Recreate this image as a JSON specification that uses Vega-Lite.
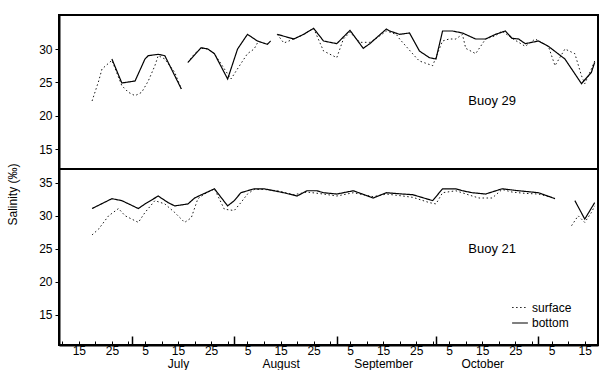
{
"$schema": "https://vega.github.io/schema/vega-lite/v6.json",
"padding": {"left": 5, "top": 14, "right": 0, "bottom": 0},
"spacing": 0,
"bounds": "flush",
"config": {
  "font": "Liberation Sans",
  "view": {"stroke": "black", "strokeWidth": 2},
  "axis": {"labelFont": "Liberation Sans", "labelFontSize": 12, "labelColor": "black", "tickColor": "black", "domainColor": "black", "grid": false, "titleColor": "black", "titleFont": "Liberation Sans"},
  "legend": {"labelFont": "Liberation Sans", "labelColor": "black"}
},
"resolve": {"scale": {"strokeDash": "independent", "strokeWidth": "independent"}, "legend": {"strokeDash": "independent"}},
"datasets": {
  "labels": [
    {"buoy": 29, "label": "Buoy 29", "date": "1975-10-18", "sal": 22.2},
    {"buoy": 21, "label": "Buoy 21", "date": "1975-10-18", "sal": 25.0}
  ],
  "sal": [
    {"buoy":29,"layer":"bottom","date":"1975-06-18","sal":25.8},
    {"buoy":29,"layer":"bottom","date":"1975-06-21","sal":null},
    {"buoy":29,"layer":"bottom","date":"1975-06-25","sal":28.5},
    {"buoy":29,"layer":"bottom","date":"1975-06-28","sal":24.9},
    {"buoy":29,"layer":"bottom","date":"1975-07-02","sal":25.2},
    {"buoy":29,"layer":"bottom","date":"1975-07-03","sal":26.3},
    {"buoy":29,"layer":"bottom","date":"1975-07-05","sal":28.5},
    {"buoy":29,"layer":"bottom","date":"1975-07-06","sal":29.0},
    {"buoy":29,"layer":"bottom","date":"1975-07-09","sal":29.2},
    {"buoy":29,"layer":"bottom","date":"1975-07-11","sal":29.0},
    {"buoy":29,"layer":"bottom","date":"1975-07-13","sal":27.0},
    {"buoy":29,"layer":"bottom","date":"1975-07-16","sal":24.0},
    {"buoy":29,"layer":"bottom","date":"1975-07-17","sal":null},
    {"buoy":29,"layer":"bottom","date":"1975-07-18","sal":28.0},
    {"buoy":29,"layer":"bottom","date":"1975-07-22","sal":30.2},
    {"buoy":29,"layer":"bottom","date":"1975-07-24","sal":30.0},
    {"buoy":29,"layer":"bottom","date":"1975-07-26","sal":29.3},
    {"buoy":29,"layer":"bottom","date":"1975-07-30","sal":25.5},
    {"buoy":29,"layer":"bottom","date":"1975-08-02","sal":30.0},
    {"buoy":29,"layer":"bottom","date":"1975-08-05","sal":32.2},
    {"buoy":29,"layer":"bottom","date":"1975-08-08","sal":31.2},
    {"buoy":29,"layer":"bottom","date":"1975-08-11","sal":30.7},
    {"buoy":29,"layer":"bottom","date":"1975-08-12","sal":31.2},
    {"buoy":29,"layer":"bottom","date":"1975-08-13","sal":null},
    {"buoy":29,"layer":"bottom","date":"1975-08-14","sal":32.2},
    {"buoy":29,"layer":"bottom","date":"1975-08-19","sal":31.5},
    {"buoy":29,"layer":"bottom","date":"1975-08-22","sal":32.2},
    {"buoy":29,"layer":"bottom","date":"1975-08-25","sal":33.1},
    {"buoy":29,"layer":"bottom","date":"1975-08-28","sal":31.2},
    {"buoy":29,"layer":"bottom","date":"1975-09-01","sal":30.8},
    {"buoy":29,"layer":"bottom","date":"1975-09-05","sal":32.8},
    {"buoy":29,"layer":"bottom","date":"1975-09-09","sal":30.1},
    {"buoy":29,"layer":"bottom","date":"1975-09-11","sal":30.8},
    {"buoy":29,"layer":"bottom","date":"1975-09-16","sal":33.0},
    {"buoy":29,"layer":"bottom","date":"1975-09-17","sal":32.7},
    {"buoy":29,"layer":"bottom","date":"1975-09-20","sal":32.2},
    {"buoy":29,"layer":"bottom","date":"1975-09-23","sal":32.4},
    {"buoy":29,"layer":"bottom","date":"1975-09-26","sal":29.7},
    {"buoy":29,"layer":"bottom","date":"1975-09-29","sal":28.7},
    {"buoy":29,"layer":"bottom","date":"1975-10-01","sal":28.5},
    {"buoy":29,"layer":"bottom","date":"1975-10-03","sal":32.7},
    {"buoy":29,"layer":"bottom","date":"1975-10-06","sal":32.7},
    {"buoy":29,"layer":"bottom","date":"1975-10-09","sal":32.4},
    {"buoy":29,"layer":"bottom","date":"1975-10-13","sal":31.5},
    {"buoy":29,"layer":"bottom","date":"1975-10-16","sal":31.5},
    {"buoy":29,"layer":"bottom","date":"1975-10-19","sal":32.2},
    {"buoy":29,"layer":"bottom","date":"1975-10-22","sal":32.7},
    {"buoy":29,"layer":"bottom","date":"1975-10-24","sal":31.6},
    {"buoy":29,"layer":"bottom","date":"1975-10-26","sal":31.5},
    {"buoy":29,"layer":"bottom","date":"1975-10-28","sal":30.8},
    {"buoy":29,"layer":"bottom","date":"1975-11-01","sal":31.2},
    {"buoy":29,"layer":"bottom","date":"1975-11-04","sal":30.4},
    {"buoy":29,"layer":"bottom","date":"1975-11-09","sal":28.5},
    {"buoy":29,"layer":"bottom","date":"1975-11-14","sal":24.8},
    {"buoy":29,"layer":"bottom","date":"1975-11-17","sal":26.5},
    {"buoy":29,"layer":"bottom","date":"1975-11-18","sal":28.0},
    {"buoy":29,"layer":"surface","date":"1975-06-19","sal":22.2},
    {"buoy":29,"layer":"surface","date":"1975-06-21","sal":25.2},
    {"buoy":29,"layer":"surface","date":"1975-06-22","sal":27.0},
    {"buoy":29,"layer":"surface","date":"1975-06-25","sal":28.3},
    {"buoy":29,"layer":"surface","date":"1975-06-28","sal":24.5},
    {"buoy":29,"layer":"surface","date":"1975-06-30","sal":23.5},
    {"buoy":29,"layer":"surface","date":"1975-07-02","sal":23.0},
    {"buoy":29,"layer":"surface","date":"1975-07-04","sal":23.5},
    {"buoy":29,"layer":"surface","date":"1975-07-06","sal":25.2},
    {"buoy":29,"layer":"surface","date":"1975-07-08","sal":27.5},
    {"buoy":29,"layer":"surface","date":"1975-07-09","sal":29.0},
    {"buoy":29,"layer":"surface","date":"1975-07-11","sal":28.5},
    {"buoy":29,"layer":"surface","date":"1975-07-14","sal":26.5},
    {"buoy":29,"layer":"surface","date":"1975-07-16","sal":24.0},
    {"buoy":29,"layer":"surface","date":"1975-07-17","sal":null},
    {"buoy":29,"layer":"surface","date":"1975-07-18","sal":28.0},
    {"buoy":29,"layer":"surface","date":"1975-07-20","sal":29.3},
    {"buoy":29,"layer":"surface","date":"1975-07-22","sal":30.1},
    {"buoy":29,"layer":"surface","date":"1975-07-24","sal":30.0},
    {"buoy":29,"layer":"surface","date":"1975-07-26","sal":29.3},
    {"buoy":29,"layer":"surface","date":"1975-07-31","sal":25.5},
    {"buoy":29,"layer":"surface","date":"1975-08-03","sal":27.8},
    {"buoy":29,"layer":"surface","date":"1975-08-05","sal":29.3},
    {"buoy":29,"layer":"surface","date":"1975-08-07","sal":30.0},
    {"buoy":29,"layer":"surface","date":"1975-08-08","sal":30.9},
    {"buoy":29,"layer":"surface","date":"1975-08-09","sal":null},
    {"buoy":29,"layer":"surface","date":"1975-08-14","sal":32.2},
    {"buoy":29,"layer":"surface","date":"1975-08-16","sal":30.9},
    {"buoy":29,"layer":"surface","date":"1975-08-19","sal":31.5},
    {"buoy":29,"layer":"surface","date":"1975-08-22","sal":32.2},
    {"buoy":29,"layer":"surface","date":"1975-08-25","sal":33.1},
    {"buoy":29,"layer":"surface","date":"1975-08-28","sal":29.7},
    {"buoy":29,"layer":"surface","date":"1975-09-01","sal":28.7},
    {"buoy":29,"layer":"surface","date":"1975-09-03","sal":31.5},
    {"buoy":29,"layer":"surface","date":"1975-09-05","sal":32.5},
    {"buoy":29,"layer":"surface","date":"1975-09-08","sal":31.0},
    {"buoy":29,"layer":"surface","date":"1975-09-11","sal":31.0},
    {"buoy":29,"layer":"surface","date":"1975-09-13","sal":31.6},
    {"buoy":29,"layer":"surface","date":"1975-09-16","sal":32.7},
    {"buoy":29,"layer":"surface","date":"1975-09-19","sal":32.2},
    {"buoy":29,"layer":"surface","date":"1975-09-20","sal":31.5},
    {"buoy":29,"layer":"surface","date":"1975-09-25","sal":28.7},
    {"buoy":29,"layer":"surface","date":"1975-09-26","sal":28.2},
    {"buoy":29,"layer":"surface","date":"1975-09-30","sal":27.5},
    {"buoy":29,"layer":"surface","date":"1975-10-02","sal":30.0},
    {"buoy":29,"layer":"surface","date":"1975-10-03","sal":31.2},
    {"buoy":29,"layer":"surface","date":"1975-10-05","sal":31.5},
    {"buoy":29,"layer":"surface","date":"1975-10-07","sal":31.5},
    {"buoy":29,"layer":"surface","date":"1975-10-09","sal":32.2},
    {"buoy":29,"layer":"surface","date":"1975-10-10","sal":30.1},
    {"buoy":29,"layer":"surface","date":"1975-10-13","sal":29.3},
    {"buoy":29,"layer":"surface","date":"1975-10-16","sal":31.5},
    {"buoy":29,"layer":"surface","date":"1975-10-19","sal":32.0},
    {"buoy":29,"layer":"surface","date":"1975-10-21","sal":32.7},
    {"buoy":29,"layer":"surface","date":"1975-10-24","sal":31.6},
    {"buoy":29,"layer":"surface","date":"1975-10-28","sal":30.4},
    {"buoy":29,"layer":"surface","date":"1975-10-31","sal":31.5},
    {"buoy":29,"layer":"surface","date":"1975-11-04","sal":30.4},
    {"buoy":29,"layer":"surface","date":"1975-11-06","sal":27.5},
    {"buoy":29,"layer":"surface","date":"1975-11-09","sal":30.0},
    {"buoy":29,"layer":"surface","date":"1975-11-12","sal":29.3},
    {"buoy":29,"layer":"surface","date":"1975-11-14","sal":26.0},
    {"buoy":29,"layer":"surface","date":"1975-11-15","sal":24.8},
    {"buoy":29,"layer":"surface","date":"1975-11-17","sal":27.0},
    {"buoy":29,"layer":"surface","date":"1975-11-18","sal":28.2},
    {"buoy":21,"layer":"bottom","date":"1975-06-19","sal":31.1},
    {"buoy":21,"layer":"bottom","date":"1975-06-25","sal":32.6},
    {"buoy":21,"layer":"bottom","date":"1975-06-28","sal":32.3},
    {"buoy":21,"layer":"bottom","date":"1975-07-03","sal":31.1},
    {"buoy":21,"layer":"bottom","date":"1975-07-05","sal":31.8},
    {"buoy":21,"layer":"bottom","date":"1975-07-09","sal":33.0},
    {"buoy":21,"layer":"bottom","date":"1975-07-12","sal":32.0},
    {"buoy":21,"layer":"bottom","date":"1975-07-14","sal":31.5},
    {"buoy":21,"layer":"bottom","date":"1975-07-18","sal":31.8},
    {"buoy":21,"layer":"bottom","date":"1975-07-20","sal":32.7},
    {"buoy":21,"layer":"bottom","date":"1975-07-26","sal":34.1},
    {"buoy":21,"layer":"bottom","date":"1975-07-30","sal":31.5},
    {"buoy":21,"layer":"bottom","date":"1975-08-01","sal":32.3},
    {"buoy":21,"layer":"bottom","date":"1975-08-03","sal":33.5},
    {"buoy":21,"layer":"bottom","date":"1975-08-07","sal":34.1},
    {"buoy":21,"layer":"bottom","date":"1975-08-10","sal":34.1},
    {"buoy":21,"layer":"bottom","date":"1975-08-12","sal":33.9},
    {"buoy":21,"layer":"bottom","date":"1975-08-16","sal":33.5},
    {"buoy":21,"layer":"bottom","date":"1975-08-20","sal":33.0},
    {"buoy":21,"layer":"bottom","date":"1975-08-23","sal":33.8},
    {"buoy":21,"layer":"bottom","date":"1975-08-26","sal":33.8},
    {"buoy":21,"layer":"bottom","date":"1975-08-28","sal":33.5},
    {"buoy":21,"layer":"bottom","date":"1975-09-01","sal":33.3},
    {"buoy":21,"layer":"bottom","date":"1975-09-06","sal":33.8},
    {"buoy":21,"layer":"bottom","date":"1975-09-12","sal":32.7},
    {"buoy":21,"layer":"bottom","date":"1975-09-16","sal":33.5},
    {"buoy":21,"layer":"bottom","date":"1975-09-21","sal":33.3},
    {"buoy":21,"layer":"bottom","date":"1975-09-24","sal":33.2},
    {"buoy":21,"layer":"bottom","date":"1975-09-28","sal":32.6},
    {"buoy":21,"layer":"bottom","date":"1975-09-30","sal":32.3},
    {"buoy":21,"layer":"bottom","date":"1975-10-03","sal":34.1},
    {"buoy":21,"layer":"bottom","date":"1975-10-07","sal":34.1},
    {"buoy":21,"layer":"bottom","date":"1975-10-09","sal":33.8},
    {"buoy":21,"layer":"bottom","date":"1975-10-12","sal":33.5},
    {"buoy":21,"layer":"bottom","date":"1975-10-16","sal":33.3},
    {"buoy":21,"layer":"bottom","date":"1975-10-21","sal":34.1},
    {"buoy":21,"layer":"bottom","date":"1975-10-26","sal":33.8},
    {"buoy":21,"layer":"bottom","date":"1975-11-01","sal":33.5},
    {"buoy":21,"layer":"bottom","date":"1975-11-06","sal":32.6},
    {"buoy":21,"layer":"bottom","date":"1975-11-08","sal":null},
    {"buoy":21,"layer":"bottom","date":"1975-11-12","sal":32.3},
    {"buoy":21,"layer":"bottom","date":"1975-11-15","sal":29.5},
    {"buoy":21,"layer":"bottom","date":"1975-11-18","sal":32.0},
    {"buoy":21,"layer":"surface","date":"1975-06-19","sal":27.1},
    {"buoy":21,"layer":"surface","date":"1975-06-21","sal":28.0},
    {"buoy":21,"layer":"surface","date":"1975-06-24","sal":30.0},
    {"buoy":21,"layer":"surface","date":"1975-06-27","sal":31.1},
    {"buoy":21,"layer":"surface","date":"1975-06-29","sal":30.0},
    {"buoy":21,"layer":"surface","date":"1975-07-03","sal":29.0},
    {"buoy":21,"layer":"surface","date":"1975-07-05","sal":30.5},
    {"buoy":21,"layer":"surface","date":"1975-07-08","sal":32.3},
    {"buoy":21,"layer":"surface","date":"1975-07-11","sal":31.8},
    {"buoy":21,"layer":"surface","date":"1975-07-14","sal":30.5},
    {"buoy":21,"layer":"surface","date":"1975-07-17","sal":29.0},
    {"buoy":21,"layer":"surface","date":"1975-07-19","sal":29.7},
    {"buoy":21,"layer":"surface","date":"1975-07-21","sal":32.6},
    {"buoy":21,"layer":"surface","date":"1975-07-23","sal":33.3},
    {"buoy":21,"layer":"surface","date":"1975-07-26","sal":34.1},
    {"buoy":21,"layer":"surface","date":"1975-07-29","sal":31.0},
    {"buoy":21,"layer":"surface","date":"1975-08-01","sal":30.8},
    {"buoy":21,"layer":"surface","date":"1975-08-03","sal":32.0},
    {"buoy":21,"layer":"surface","date":"1975-08-05","sal":33.3},
    {"buoy":21,"layer":"surface","date":"1975-08-07","sal":34.0},
    {"buoy":21,"layer":"surface","date":"1975-08-10","sal":34.0},
    {"buoy":21,"layer":"surface","date":"1975-08-14","sal":33.8},
    {"buoy":21,"layer":"surface","date":"1975-08-19","sal":33.2},
    {"buoy":21,"layer":"surface","date":"1975-08-23","sal":33.6},
    {"buoy":21,"layer":"surface","date":"1975-08-28","sal":33.3},
    {"buoy":21,"layer":"surface","date":"1975-09-01","sal":33.0},
    {"buoy":21,"layer":"surface","date":"1975-09-06","sal":33.5},
    {"buoy":21,"layer":"surface","date":"1975-09-12","sal":32.9},
    {"buoy":21,"layer":"surface","date":"1975-09-16","sal":33.3},
    {"buoy":21,"layer":"surface","date":"1975-09-21","sal":33.0},
    {"buoy":21,"layer":"surface","date":"1975-09-24","sal":32.8},
    {"buoy":21,"layer":"surface","date":"1975-09-29","sal":32.0},
    {"buoy":21,"layer":"surface","date":"1975-10-01","sal":31.8},
    {"buoy":21,"layer":"surface","date":"1975-10-03","sal":33.5},
    {"buoy":21,"layer":"surface","date":"1975-10-07","sal":33.8},
    {"buoy":21,"layer":"surface","date":"1975-10-12","sal":33.0},
    {"buoy":21,"layer":"surface","date":"1975-10-14","sal":32.7},
    {"buoy":21,"layer":"surface","date":"1975-10-18","sal":32.7},
    {"buoy":21,"layer":"surface","date":"1975-10-21","sal":34.0},
    {"buoy":21,"layer":"surface","date":"1975-10-24","sal":33.6},
    {"buoy":21,"layer":"surface","date":"1975-10-28","sal":33.4},
    {"buoy":21,"layer":"surface","date":"1975-11-01","sal":33.3},
    {"buoy":21,"layer":"surface","date":"1975-11-05","sal":32.8},
    {"buoy":21,"layer":"surface","date":"1975-11-08","sal":null},
    {"buoy":21,"layer":"surface","date":"1975-11-11","sal":28.5},
    {"buoy":21,"layer":"surface","date":"1975-11-13","sal":30.0},
    {"buoy":21,"layer":"surface","date":"1975-11-15","sal":29.0},
    {"buoy":21,"layer":"surface","date":"1975-11-17","sal":30.5},
    {"buoy":21,"layer":"surface","date":"1975-11-18","sal":31.5}
  ]
},
"vconcat": [
  {
    "width": 539, "height": 154,
    "layer": [
      {
        "data": {"name": "sal"},
        "transform": [{"filter": "datum.buoy == 29"}],
        "mark": {"type": "line", "color": "black"},
        "encoding": {
          "x": {"field": "date", "type": "temporal", "scale": {"type": "utc", "domain": [{"year": 1975, "month": 6, "date": 9, "utc": true}, {"year": 1975, "month": 11, "date": 19, "utc": true}]}, "axis": null},
          "y": {"field": "sal", "type": "quantitative", "scale": {"domain": [12, 35.1], "nice": false, "zero": false}, "axis": {"values": [15, 20, 25, 30], "title": null, "domainWidth": 2, "tickSize": 4, "labelPadding": 3}},
          "strokeDash": {"field": "layer", "type": "nominal", "scale": {"domain": ["surface", "bottom"], "range": [[1.5, 2.5], [1, 0]]}, "legend": null},
          "strokeWidth": {"field": "layer", "type": "nominal", "scale": {"domain": ["surface", "bottom"], "range": [0.9, 1.2]}, "legend": null}
        }
      },
      {
        "data": {"name": "labels"},
        "transform": [{"filter": "datum.buoy == 29"}],
        "mark": {"type": "text", "fontSize": 13, "align": "center", "color": "black"},
        "encoding": {
          "x": {"field": "date", "type": "temporal", "axis": null},
          "y": {"field": "sal", "type": "quantitative"},
          "text": {"field": "label"}
        }
      }
    ]
  },
  {
    "width": 539, "height": 176,
    "resolve": {"axis": {"x": "independent"}},
    "layer": [
      {
        "data": {"name": "sal"},
        "transform": [{"filter": "datum.buoy == 21"}],
        "mark": {"type": "line", "color": "black"},
        "encoding": {
          "x": {"field": "date", "type": "temporal", "scale": {"type": "utc", "domain": [{"year": 1975, "month": 6, "date": 9, "utc": true}, {"year": 1975, "month": 11, "date": 19, "utc": true}]},
            "axis": {
              "orient": "bottom", "title": null, "domainWidth": 2, "tickSize": -4, "labelPadding": 4, "labelOverlap": false, "labelFontSize": 12, "labelLineHeight": 13, "labelBound": false, "labelFlush": false,
              "labelExpr": "utcdate(datum.value) % 10 == 5 ? ((utcdate(datum.value) == 15 && utcmonth(datum.value) >= 6 && utcmonth(datum.value) <= 9) ? ['15', utcFormat(datum.value, '%B')] : '' + utcdate(datum.value)) : ''",
              "values": [
                {"year":1975,"month":6,"date":10,"utc":true},{"year":1975,"month":6,"date":15,"utc":true},{"year":1975,"month":6,"date":20,"utc":true},{"year":1975,"month":6,"date":25,"utc":true},{"year":1975,"month":6,"date":30,"utc":true},
                {"year":1975,"month":7,"date":5,"utc":true},{"year":1975,"month":7,"date":10,"utc":true},{"year":1975,"month":7,"date":15,"utc":true},{"year":1975,"month":7,"date":20,"utc":true},{"year":1975,"month":7,"date":25,"utc":true},{"year":1975,"month":7,"date":30,"utc":true},
                {"year":1975,"month":8,"date":5,"utc":true},{"year":1975,"month":8,"date":10,"utc":true},{"year":1975,"month":8,"date":15,"utc":true},{"year":1975,"month":8,"date":20,"utc":true},{"year":1975,"month":8,"date":25,"utc":true},{"year":1975,"month":8,"date":30,"utc":true},
                {"year":1975,"month":9,"date":5,"utc":true},{"year":1975,"month":9,"date":10,"utc":true},{"year":1975,"month":9,"date":15,"utc":true},{"year":1975,"month":9,"date":20,"utc":true},{"year":1975,"month":9,"date":25,"utc":true},{"year":1975,"month":9,"date":30,"utc":true},
                {"year":1975,"month":10,"date":5,"utc":true},{"year":1975,"month":10,"date":10,"utc":true},{"year":1975,"month":10,"date":15,"utc":true},{"year":1975,"month":10,"date":20,"utc":true},{"year":1975,"month":10,"date":25,"utc":true},{"year":1975,"month":10,"date":30,"utc":true},
                {"year":1975,"month":11,"date":5,"utc":true},{"year":1975,"month":11,"date":10,"utc":true},{"year":1975,"month":11,"date":15,"utc":true}
              ]
            }
          },
          "y": {"field": "sal", "type": "quantitative", "scale": {"domain": [10.4, 37.1], "nice": false, "zero": false},
            "axis": {"values": [15, 20, 25, 30, 35], "title": "Salinity (‰)", "titleFontSize": 12, "titleFontWeight": "normal", "titleY": 25, "titleX": -40, "titleAlign": "center", "domainWidth": 2, "tickSize": 4, "labelPadding": 3}},
          "strokeDash": {"field": "layer", "type": "nominal", "scale": {"domain": ["surface", "bottom"], "range": [[1.5, 2.5], [1, 0]]},
            "legend": {"orient": "none", "legendX": 452, "legendY": 130, "title": null, "symbolType": "stroke", "symbolStrokeColor": "black", "symbolSize": 250, "symbolStrokeWidth": 1, "labelFontSize": 12, "rowPadding": 0, "labelOffset": 3}},
          "strokeWidth": {"field": "layer", "type": "nominal", "scale": {"domain": ["surface", "bottom"], "range": [0.9, 1.2]}, "legend": null}
        }
      },
      {
        "data": {"name": "sal"},
        "transform": [{"filter": "datum.buoy == 21"}],
        "mark": {"type": "point", "opacity": 0},
        "encoding": {
          "x": {"field": "date", "type": "temporal",
            "axis": {"orient": "bottom", "title": null, "labels": false, "domain": false, "tickSize": -9, "tickWidth": 1.5,
              "values": [{"year":1975,"month":7,"date":1,"utc":true},{"year":1975,"month":8,"date":1,"utc":true},{"year":1975,"month":9,"date":1,"utc":true},{"year":1975,"month":10,"date":1,"utc":true},{"year":1975,"month":11,"date":1,"utc":true}]}}
        }
      },
      {
        "data": {"name": "labels"},
        "transform": [{"filter": "datum.buoy == 21"}],
        "mark": {"type": "text", "fontSize": 13, "align": "center", "color": "black"},
        "encoding": {
          "x": {"field": "date", "type": "temporal", "axis": null},
          "y": {"field": "sal", "type": "quantitative"},
          "text": {"field": "label"}
        }
      }
    ]
  }
]
}
